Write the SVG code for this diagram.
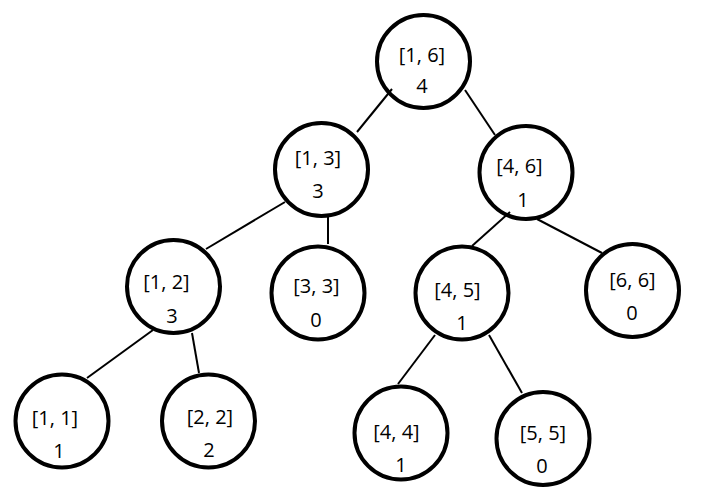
<svg xmlns="http://www.w3.org/2000/svg" width="726" height="493" viewBox="0 0 726 493">
<style>
.n circle{fill:#fff;stroke:#000;stroke-width:4}
.n text{font-family:"Open Sans","Noto Sans","DejaVu Sans",sans-serif;font-size:20px;fill:#000;text-anchor:middle}
#edges line{stroke:#000;stroke-width:2}
</style>
<rect width="726" height="493" fill="#fff"/>
<g id="n16" class="n"><circle cx="423.5" cy="61.5" r="46.5"/><text x="422" y="62">[1, 6]</text><text x="422" y="93">4</text></g>
<g id="n13" class="n"><circle cx="321.5" cy="169.5" r="46.5"/><text x="318" y="165">[1, 3]</text><text x="318" y="198">3</text></g>
<g id="n46" class="n"><circle cx="526" cy="172.5" r="46.5"/><text x="519.5" y="173">[4, 6]</text><text x="523" y="207">1</text></g>
<g id="n12" class="n"><circle cx="173.5" cy="286.5" r="46.5"/><text x="166.5" y="289">[1, 2]</text><text x="172" y="323">3</text></g>
<g id="n33" class="n"><circle cx="318" cy="293" r="46.5"/><text x="316.5" y="293">[3, 3]</text><text x="316" y="327">0</text></g>
<g id="n45" class="n"><circle cx="462" cy="293" r="46.5"/><text x="457.5" y="297">[4, 5]</text><text x="462" y="330">1</text></g>
<g id="n66" class="n"><circle cx="632.5" cy="290.5" r="46.5"/><text x="632.5" y="287">[6, 6]</text><text x="632" y="320">0</text></g>
<g id="n11" class="n"><circle cx="62" cy="421" r="46.5"/><text x="55" y="425">[1, 1]</text><text x="59" y="458">1</text></g>
<g id="n22" class="n"><circle cx="208.5" cy="421" r="46.5"/><text x="210" y="424">[2, 2]</text><text x="209" y="457">2</text></g>
<g id="n44" class="n"><circle cx="401" cy="433" r="46.5"/><text x="396.5" y="439">[4, 4]</text><text x="401" y="472">1</text></g>
<g id="n55" class="n"><circle cx="543" cy="438.5" r="46.5"/><text x="543" y="440">[5, 5]</text><text x="542" y="473">0</text></g>
<g id="edges">
<line x1="392" y1="89" x2="357" y2="132"/>
<line x1="465" y1="90" x2="495" y2="135"/>
<line x1="285" y1="202" x2="206" y2="249"/>
<line x1="328" y1="215" x2="328" y2="244"/>
<line x1="510" y1="212" x2="472" y2="246"/>
<line x1="537" y1="219" x2="602" y2="253"/>
<line x1="153" y1="330" x2="87" y2="378"/>
<line x1="192" y1="333" x2="199" y2="373"/>
<line x1="435" y1="335" x2="398" y2="384"/>
<line x1="489" y1="335" x2="522" y2="393"/>
</g>
</svg>
